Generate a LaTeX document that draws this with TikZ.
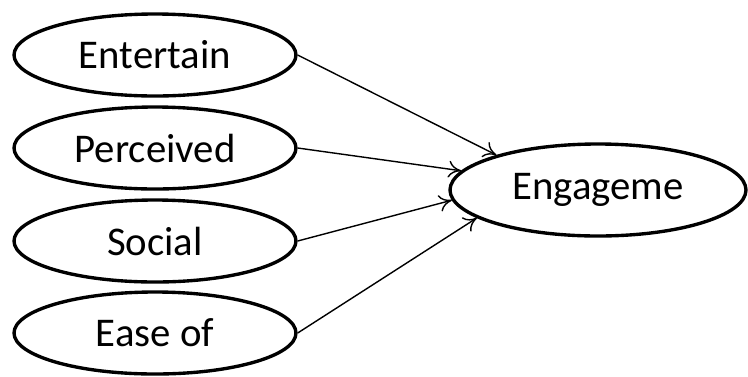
\documentclass[tikz,border=0pt]{standalone}
\usepackage{fontspec}
\setmainfont{Carlito}
\usetikzlibrary{shapes.geometric, arrows.meta}

\begin{document}
\begin{tikzpicture}[
  factor/.style={draw, ellipse, line width=2.4pt, minimum width=7.05cm, minimum height=2.05cm, inner sep=0pt, font=\fontsize{29}{32}\selectfont},
  link/.style={-{To[length=9pt,width=12pt]}, line width=1pt}
]
\useasboundingbox (0,0) rectangle (18.7,-9.4);

% Predictors
\node[factor] (ent) at (3.875,-1.375) {Entertain};
\node[factor] (per) at (3.875,-3.7) {Perceived};
\node[factor] (soc) at (3.875,-6.025) {Social};
\node[factor] (ease) at (3.875,-8.325) {Ease of};

% Outcome
\node[factor, minimum width=7.4cm, minimum height=2.3cm] (eng) at (14.95,-4.75) {Engageme};

% Paths
\draw[link] (ent.east) -- (eng.161.7);
\draw[link] (per.east) -- (eng.172.7);
\draw[link] (soc.east) -- (eng.184.9);
\draw[link] (ease.east) -- (eng.193.3);
\end{tikzpicture}
\end{document}
